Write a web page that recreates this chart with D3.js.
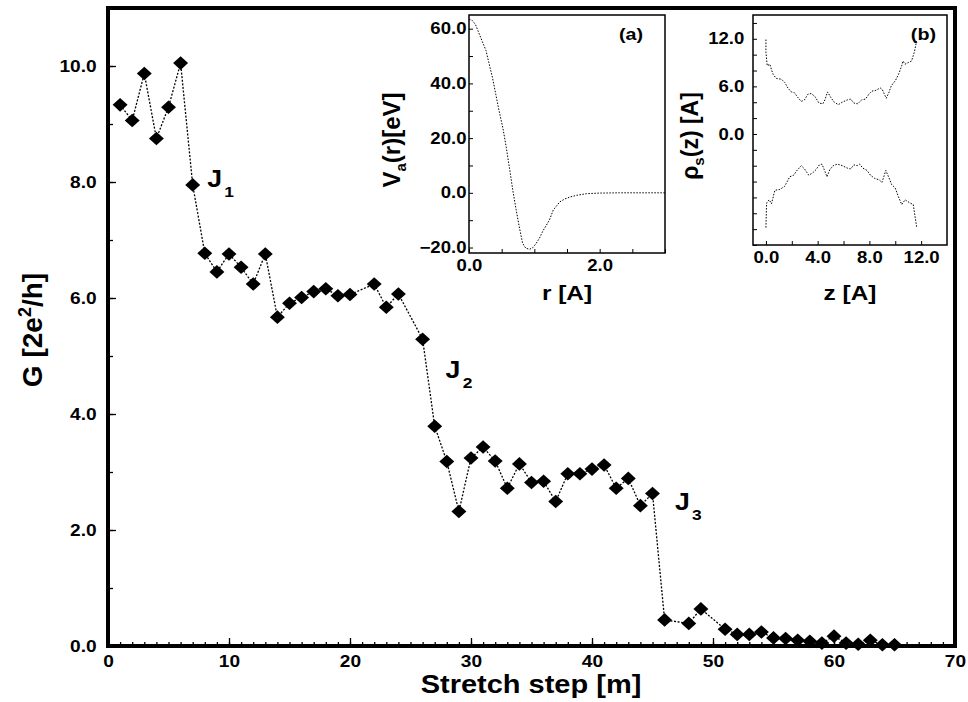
<!DOCTYPE html>
<html>
<head>
<meta charset="utf-8">
<script src="https://cdn.jsdelivr.net/npm/d3@7"></script>
<style>
  body { margin: 0; background: #fff; }
  svg { display: block; }
  text { font-family: "Liberation Sans", Arial, sans-serif; font-weight: bold; fill: #000; }
</style>
</head>
<body>
<script>
// Conductance per stretch step (main plot)
var steps = [1, 2, 3, 4, 5, 6, 7, 8, 9, 10, 11, 12, 13, 14, 15, 16, 17, 18, 19, 20,
  22, 23, 24, 26, 27, 28, 29, 30, 31, 32, 33, 34, 35, 36, 37, 38, 39, 40, 41, 42,
  43, 44, 45, 46, 48, 49, 51, 52, 53, 54, 55, 56, 57, 58, 59, 60, 61, 62, 63, 64, 65];
var conductance = [9.33, 9.06, 9.87, 8.75, 9.29, 10.05, 7.95, 6.77, 6.45, 6.76, 6.53, 6.24, 6.76, 5.67, 5.91, 6.01, 6.11, 6.16, 6.04, 6.06,
  6.24, 5.84, 6.07, 5.29, 3.79, 3.18, 2.32, 3.24, 3.43, 3.19, 2.72, 3.14, 2.82, 2.84, 2.49, 2.97, 2.97, 3.05, 3.12, 2.72,
  2.89, 2.42, 2.63, 0.45, 0.39, 0.64, 0.29, 0.20, 0.20, 0.24, 0.14, 0.13, 0.10, 0.08, 0.05, 0.17, 0.05, 0.03, 0.10, 0.02, 0.02];
var jumpNames = ["J", "J", "J"];
var jumpSubs = ["1", "2", "3"];
var jumpSteps = [8.2, 27.9, 46.85];
var jumpG = [7.91, 4.62, 2.34];
var xTicksMain = [0, 10, 20, 30, 40, 50, 60, 70];
var yTicksMain = [0, 2, 4, 6, 8, 10];

// Inset (a): potential V_a(r)
var rValues = [0, 0.05, 0.1, 0.15, 0.2, 0.26, 0.31, 0.36, 0.41, 0.46, 0.52, 0.57, 0.62, 0.67, 0.72, 0.77, 0.82, 0.87,
  0.93, 0.98, 1.03, 1.08, 1.13, 1.18, 1.23, 1.29, 1.34, 1.39, 1.47, 1.55, 1.65, 1.8, 2.0, 2.3, 2.6, 3.0];
var vValues = [63.5, 63, 61.5, 58.5, 55.5, 52, 47, 42, 36, 30, 23.5, 16.7, 9, 1, -6, -12.5, -18.4, -20.3,
  -20.6, -20, -18.4, -16.5, -14, -12, -10, -6.3, -4.8, -3.3, -2.2, -1.5, -0.9, -0.3, -0.1, 0, 0, 0];
var xTicksA = [0, 2];
var yTicksA = [-20, 0, 20, 40, 60];

// Inset (b): radius profile rho_s(z), upper and lower edges
var zUpper = [0, 0, 0.1, 0.3, 0.43, 0.56, 0.8, 1.2, 1.45, 1.7, 1.96, 2.2, 2.47, 2.73, 2.98, 3.24, 3.5, 3.8, 4.1, 4.4,
  4.56, 4.76, 5.02, 5.28, 5.6, 5.9, 6.3, 6.55, 6.8, 7.1, 7.4, 7.7, 7.95, 8.2, 8.5, 8.84, 9.0, 9.3, 9.5, 9.7,
  10.0, 10.25, 10.5, 10.6, 10.75, 11.0, 11.26, 11.47, 11.65];
var rhoUpper = [11.9, 10.3, 8.6, 8.8, 8.1, 7.5, 7.0, 6.9, 6.5, 5.8, 5.3, 5.2, 4.6, 4.1, 4.3, 5.0, 5.1, 4.7, 3.9, 3.8,
  4.3, 5.3, 4.6, 4.0, 3.7, 4.0, 4.3, 4.4, 3.9, 3.8, 4.3, 4.4, 5.0, 5.4, 5.5, 5.8, 5.6, 4.5, 5.2, 6.1,
  6.7, 7.5, 8.6, 9.2, 8.8, 9.0, 9.2, 10.3, 11.7];
var zLower = [0, 0.05, 0.25, 0.43, 0.69, 1.07, 1.45, 1.84, 2.14, 2.35, 2.73, 2.98, 3.31, 3.62, 3.87, 4.13, 4.33, 4.51,
  4.72, 4.94, 5.2, 5.53, 5.91, 6.29, 6.55, 6.8, 7.06, 7.24, 7.49, 7.82, 8.08, 8.41, 8.77, 8.97, 9.27, 9.48,
  9.73, 9.99, 10.24, 10.5, 10.76, 11.14, 11.39, 11.65];
var rhoLower = [-11.8, -8.7, -8.3, -8.8, -7.1, -7.0, -6.6, -5.4, -5.2, -4.7, -4.0, -4.4, -5.2, -4.9, -4.5, -3.9, -3.8, -4.5,
  -5.4, -4.5, -4.0, -3.8, -4.0, -4.3, -4.4, -3.9, -4.0, -3.8, -4.3, -4.6, -5.2, -5.6, -5.8, -6.1, -4.6, -5.4,
  -6.4, -6.8, -7.9, -8.9, -8.3, -8.7, -8.9, -11.7];
var xTicksB = [0, 4, 8, 12];
var yTicksB = [0, 6, 12];

var fmt = d3.format(".1f");
// the original figure is a bit wider than tall, so horizontal text is stretched
var STRETCH = "scale(1.16,1)";

var svg = d3.select("body").append("svg")
  .attr("width", 968)
  .attr("height", 702);

function hText(px, py, size, anchor, str) {
  return svg.append("text")
    .attr("transform", "translate(" + px + "," + py + ") " + STRETCH)
    .attr("text-anchor", anchor)
    .style("font-size", size + "px")
    .text(str);
}

// ---------- main plot ----------
var x = d3.scaleLinear().domain([0, 70]).range([108, 955]);
var y = d3.scaleLinear().domain([0, 11]).range([646, 8]);

// minor ticks
svg.append("g")
  .attr("transform", "translate(0,646)")
  .call(d3.axisBottom(x).tickValues(d3.range(0, 71, 1)).tickSize(-4).tickFormat(""))
  .call(function (g) { g.select(".domain").remove(); });
svg.append("g")
  .attr("transform", "translate(108,0)")
  .call(d3.axisLeft(y).tickValues(d3.range(0, 11, 1)).tickSize(-5).tickFormat(""))
  .call(function (g) { g.select(".domain").remove(); });

// major ticks + labels
var xAxis = svg.append("g")
  .attr("transform", "translate(0,646)")
  .call(d3.axisBottom(x).tickValues(xTicksMain).tickSize(-8).tickPadding(9).tickFormat(d3.format("d")));
var yAxis = svg.append("g")
  .attr("transform", "translate(108,0)")
  .call(d3.axisLeft(y).tickValues(yTicksMain).tickSize(-8).tickPadding(9.8).tickFormat(fmt));
[xAxis, yAxis].forEach(function (g) {
  g.select(".domain").remove();
  g.selectAll("text").style("font-size", "16.5px").style("font-family", null).attr("transform", STRETCH);
});
svg.selectAll(".tick line").attr("stroke", "#000").attr("stroke-width", 1.3);

// frame
svg.append("rect")
  .attr("x", x(0)).attr("y", y(11))
  .attr("width", x(70) - x(0)).attr("height", y(0) - y(11))
  .attr("fill", "none").attr("stroke", "#000").attr("stroke-width", 4);

var mainData = steps.map(function (s, i) { return [s, conductance[i]]; });

svg.append("path")
  .datum(mainData)
  .attr("fill", "none")
  .attr("stroke", "#000")
  .attr("stroke-width", 1.3)
  .attr("stroke-dasharray", "2,1.6")
  .attr("d", d3.line().x(function (d) { return x(d[0]); }).y(function (d) { return y(d[1]); }));

svg.selectAll(".dot")
  .data(mainData)
  .enter().append("path")
  .attr("class", "dot")
  .attr("d", d3.symbol().type(d3.symbolSquare).size(92))
  .attr("transform", function (d) { return "translate(" + x(d[0]) + "," + y(d[1]) + ") scale(1.1,1) rotate(45)"; })
  .attr("fill", "#000");

// jump labels
jumpNames.forEach(function (n, i) {
  var t = hText(x(jumpSteps[i]), y(jumpG[i]), 23, "start", n);
  t.append("tspan").attr("dx", 2).attr("dy", 10).style("font-size", "15px").text(jumpSubs[i]);
});

// axis titles
hText(531, 693, 25, "middle", "Stretch step [m]");

var gLabel = svg.append("text")
  .attr("transform", "translate(42,330) rotate(-90)")
  .attr("text-anchor", "middle")
  .style("font-size", "28px");
gLabel.append("tspan").text("G [2e");
gLabel.append("tspan").attr("dy", -11).style("font-size", "18px").text("2");
gLabel.append("tspan").attr("dy", 11).text("/h]");

// ---------- inset helper ----------
function inset(opts) {
  var g = svg.append("g");
  var sx = d3.scaleLinear().domain(opts.xDomain).range([opts.left, opts.right]);
  var sy = d3.scaleLinear().domain(opts.yDomain).range([opts.bottom, opts.top]);

  g.append("rect")
    .attr("x", opts.left).attr("y", opts.top)
    .attr("width", opts.right - opts.left).attr("height", opts.bottom - opts.top)
    .attr("fill", "#fff");

  var gx = g.append("g")
    .attr("transform", "translate(0," + opts.bottom + ")")
    .call(d3.axisBottom(sx).tickValues(opts.xMinor).tickSize(-4).tickFormat(""));
  var gy = g.append("g")
    .attr("transform", "translate(" + opts.left + ",0)")
    .call(d3.axisLeft(sy).tickValues(opts.yMinor).tickSize(-4).tickFormat(""));
  var lx = g.append("g")
    .attr("transform", "translate(0," + opts.bottom + ")")
    .call(d3.axisBottom(sx).tickValues(opts.xTicks).tickSize(0).tickPadding(7).tickFormat(fmt));
  var ly = g.append("g")
    .attr("transform", "translate(" + opts.left + ",0)")
    .call(d3.axisLeft(sy).tickValues(opts.yTicks).tickSize(0).tickPadding(opts.yPad).tickFormat(fmt));
  [gx, gy, lx, ly].forEach(function (a) {
    a.select(".domain").remove();
    a.selectAll("text").style("font-size", "16px").style("font-family", null).attr("transform", STRETCH);
    a.selectAll("line").attr("stroke", "#000").attr("stroke-width", 1);
  });

  g.append("rect")
    .attr("x", opts.left).attr("y", opts.top)
    .attr("width", opts.right - opts.left).attr("height", opts.bottom - opts.top)
    .attr("fill", "none").attr("stroke", "#000").attr("stroke-width", 1.5);

  opts.series.forEach(function (s) {
    g.append("path")
      .datum(s.xs.map(function (v, i) { return [v, s.ys[i]]; }))
      .attr("fill", "none")
      .attr("stroke", "#000")
      .attr("stroke-width", 1)
      .attr("stroke-dasharray", "1.5,1.5")
      .attr("d", d3.line().x(function (d) { return sx(d[0]); }).y(function (d) { return sy(d[1]); }));
  });

  hText(opts.tagX, opts.top + 25, 17, "end", opts.tag);
  hText((opts.left + opts.right) / 2, 300, 21, "middle", opts.xTitle);

  var yt = svg.append("text")
    .attr("transform", "translate(" + opts.yTitleX + "," + ((opts.top + opts.bottom) / 2 + 6) + ") rotate(-90)")
    .attr("text-anchor", "middle")
    .style("font-size", opts.yTitleSize + "px");
  yt.append("tspan").text(opts.yTitle[0]);
  yt.append("tspan").attr("dy", 6).style("font-size", "15px").text(opts.yTitle[1]);
  yt.append("tspan").attr("dy", -6).text(opts.yTitle[2]);
}

inset({
  left: 469, right: 665, top: 15, bottom: 253,
  xDomain: [0, 3], yDomain: [-22, 65],
  xMinor: d3.range(0, 3.01, 0.5), yMinor: d3.range(-20, 61, 10),
  xTicks: xTicksA, yTicks: yTicksA, yPad: 2.2,
  series: [{ xs: rValues, ys: vValues }],
  tag: "(a)", tagX: 643, xTitle: "r [A]",
  yTitleX: 400, yTitleSize: 24, yTitle: ["V", "a", "(r)[eV]"]
});

inset({
  left: 753, right: 947, top: 15, bottom: 245,
  xDomain: [-1, 14], yDomain: [-14, 15],
  xMinor: d3.range(0, 13, 2), yMinor: d3.range(-14, 15, 2),
  xTicks: xTicksB, yTicks: yTicksB, yPad: 7.5,
  series: [{ xs: zUpper, ys: rhoUpper }, { xs: zLower, ys: rhoLower }],
  tag: "(b)", tagX: 936, xTitle: "z [A]",
  yTitleX: 698, yTitleSize: 23, yTitle: ["\u03c1", "s", "(z) [A]"]
});
</script>
</body>
</html>
